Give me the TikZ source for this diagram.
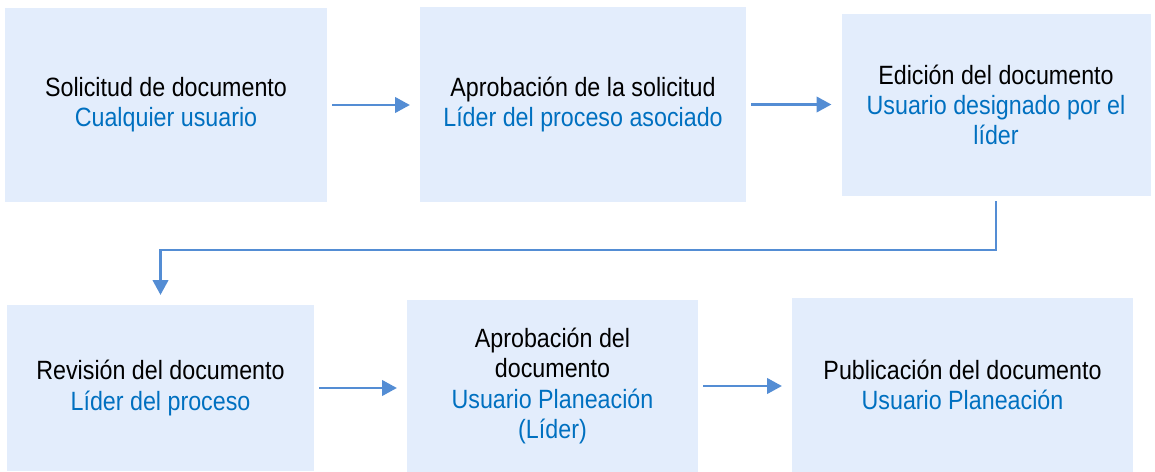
\documentclass[tikz,border=0pt]{standalone}
\usepackage{fontspec}
\setmainfont{Liberation Sans}[FakeStretch=0.88]
\usepackage{tikz}
\usetikzlibrary{arrows.meta}
\definecolor{boxfill}{RGB}{227,237,252}
\definecolor{rolecol}{RGB}{0,112,192}
\definecolor{arrcol}{RGB}{84,141,212}

\begin{document}
\begin{tikzpicture}[x=0.025cm, y=-0.025cm,
  stepbox/.style={fill=boxfill, align=center, inner sep=0pt,
    font=\fontsize{18.8}{21.4}\selectfont},
  arr/.style={draw=arrcol, line width=1.7pt, shorten <=3.6pt, shorten >=7pt,
    -{Triangle[length=10.5pt,width=11pt]}, color=arrcol}]
\useasboundingbox (0,0) rectangle (1155,472);
% first row
\node[stepbox, minimum width=322*0.025cm, minimum height=194*0.025cm] (sol) at (166,105)
  {Solicitud de documento\\ \textcolor{rolecol}{Cualquier usuario}};
\node[stepbox, minimum width=326*0.025cm, minimum height=195*0.025cm] (apr) at (583,104.5)
  {Aprobación de la solicitud\\ \textcolor{rolecol}{Líder del proceso asociado}};
\node[stepbox, minimum width=309*0.025cm, minimum height=182*0.025cm] (edi) at (996,105)
  {Edición del documento\\ \textcolor{rolecol}{Usuario designado por el}\\ \textcolor{rolecol}{líder}};
% second row
\node[stepbox, minimum width=307*0.025cm, minimum height=166*0.025cm] (rev) at (160.5,388)
  {Revisión del documento\\ \textcolor{rolecol}{Líder del proceso}};
\node[stepbox, minimum width=291*0.025cm, minimum height=173*0.025cm] (apd) at (552.5,386)
  {Aprobación del\\ documento\\ \textcolor{rolecol}{Usuario Planeación}\\ \textcolor{rolecol}{(Líder)}};
\node[stepbox, minimum width=341*0.025cm, minimum height=175*0.025cm] (pub) at (962.5,385)
  {Publicación del documento\\ \textcolor{rolecol}{Usuario Planeación}};
\coordinate (turn) at (0,250);
\draw[arr] (sol.east) -- (sol.east -| apr.west);
\draw[arr] (apr.east) -- (apr.east -| edi.west);
\draw[arr] (edi.south) -- (edi.south |- turn) -| (rev.north);
\draw[arr] (rev.east) -- (rev.east -| apd.west);
\draw[arr] (apd.east) -- (apd.east -| pub.west);
\end{tikzpicture}
\end{document}
